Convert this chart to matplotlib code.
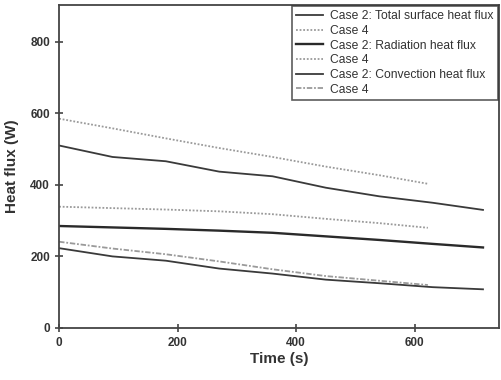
import matplotlib
matplotlib.use("Agg")
import matplotlib.pyplot as plt

plt.rcParams['font.family'] = ['Liberation Sans', 'DejaVu Sans']

t_case2 = [0, 90, 180, 270, 360, 450, 540, 630, 715]
t_case4 = [0, 90, 180, 270, 360, 450, 540, 622]

total_case2 = [510, 478, 466, 437, 424, 392, 368, 350, 330]
total_case4 = [585, 558, 530, 503, 478, 451, 427, 403]
rad_case2 = [285, 281, 277, 272, 266, 256, 246, 235, 225]
rad_case4 = [339, 335, 331, 326, 318, 305, 293, 280]
conv_case2 = [223, 200, 188, 166, 152, 135, 125, 114, 108]
conv_case4 = [241, 222, 206, 186, 164, 145, 132, 120]

labels = ["Case 2: Total surface heat flux", "Case 4",
          "Case 2: Radiation heat flux", "Case 4",
          "Case 2: Convection heat flux", "Case 4"]

fig = plt.figure(figsize=(5.01, 3.8), dpi=100)
ax = fig.add_axes([0.118, 0.137, 0.878, 0.850])

dark = '#3a3a3a'
light = '#9a9a9a'
ax.plot(t_case2, total_case2, color=dark, lw=1.3, label=labels[0])
ax.plot(t_case4, total_case4, color=light, lw=1.3, ls=(0, (1, 1)), label=labels[1])
ax.plot(t_case2, rad_case2, color='#2a2a2a', lw=1.7, label=labels[2])
ax.plot(t_case4, rad_case4, color=light, lw=1.3, ls=(0, (1, 1)), label=labels[3])
ax.plot(t_case2, conv_case2, color=dark, lw=1.3, label=labels[4])
ax.plot(t_case4, conv_case4, color=light, lw=1.3, ls=(0, (3, 1, 1, 1)), label=labels[5])

ax.set_xlim(0, 742)
ax.set_ylim(0, 903)
ax.set_xticks([0, 200, 400, 600])
ax.set_yticks([0, 200, 400, 600, 800])
for s in ax.spines.values():
    s.set_color('#444444')
    s.set_linewidth(1.3)
ax.tick_params(direction='inout', length=6, width=1.2, color='#444444', labelsize=8.5, labelcolor='#333333')
for lab in ax.get_xticklabels() + ax.get_yticklabels():
    lab.set_fontweight('bold')
ax.set_xlabel("Time (s)", fontsize=11, fontweight='bold', color='#333333', labelpad=2)
ax.set_ylabel("Heat flux (W)", fontsize=11, fontweight='bold', color='#333333', labelpad=8)

leg = ax.legend(loc='upper right', fontsize=8.7, frameon=True, fancybox=False,
                edgecolor='#333333', handlelength=2.2, labelspacing=0.22,
                borderpad=0.35, handletextpad=0.6, borderaxespad=0.1)
leg.get_frame().set_linewidth(1.2)
for t in leg.get_texts():
    t.set_color('#333333')

fig.savefig("out.png", dpi=100)
